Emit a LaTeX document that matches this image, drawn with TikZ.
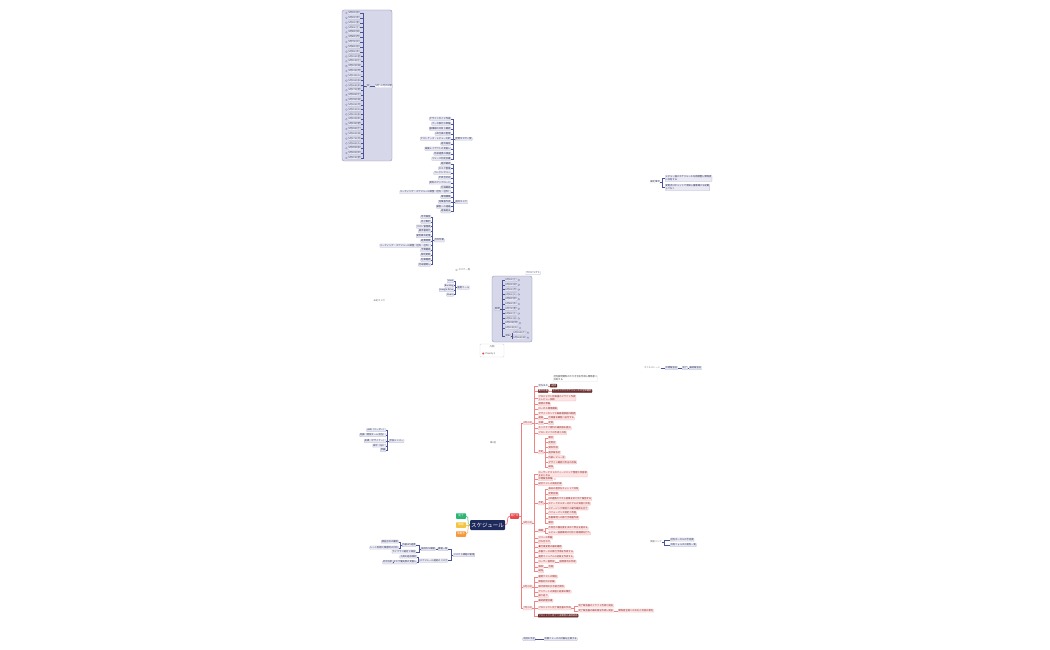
\documentclass[tikz,border=0pt]{standalone}
\usepackage{fontspec}
\setmainfont{Noto Sans CJK JP}
\usepackage{xcolor}
\usetikzlibrary{positioning}
\definecolor{navy}{HTML}{1F2A5C}
\definecolor{boxbg}{HTML}{D6D7E8}
\definecolor{boxbd}{HTML}{8487B4}
\definecolor{itembg}{HTML}{E9EAF3}
\definecolor{itembd}{HTML}{A8AACA}
\definecolor{itemtx}{HTML}{2A2F58}
\definecolor{bluelink}{HTML}{4A5298}
\definecolor{pinkbg}{HTML}{FDE3E3}
\definecolor{pinkbd}{HTML}{F3B2B2}
\definecolor{pinktx}{HTML}{8A2A2A}
\definecolor{redlink}{HTML}{F08585}
\definecolor{darkred}{HTML}{6B2C2C}
\definecolor{nodered}{HTML}{E8474C}
\definecolor{nodegreen}{HTML}{2BB673}
\definecolor{nodeyellow}{HTML}{F4C542}
\definecolor{nodeorange}{HTML}{F6993A}
\newcommand\tx{\fontsize{2.3}{2.8}\selectfont}
\newcommand\wday[1]{\ifcase#1 月\or 火\or 水\or 木\or 金\or 土\or 日\fi}

\begin{document}
\begin{tikzpicture}[x=1pt,y=-1pt,
    base/.style={rounded corners=0.6pt, line width=0.2pt, inner sep=0.5pt, font=\tx},
    item/.style={base, draw=itembd, fill=itembg, text=itemtx,
                 text height=1.8pt, text depth=0.5pt},
    pitem/.style={item, draw=pinkbd, fill=pinkbg, text=pinktx},
    ditem/.style={item, draw=darkred, fill=darkred, text=white},
    ptwo/.style={base, draw=pinkbd, fill=pinkbg, text=pinktx, align=left},
    btwo/.style={base, draw=itembd, fill=itembg, text=itemtx, align=left},
    wtwo/.style={base, draw=black!12, fill=white, text=black!80, align=left},
    note/.style={base, text=black!60, text height=1.8pt, text depth=0.5pt},
    colortag/.style={fill=#1, text=white, rounded corners=0.6pt, inner sep=0.6pt,
                     font=\fontsize{2.6}{3}\selectfont, minimum width=10pt, minimum height=5.5pt},
    blink/.style={draw=bluelink, line width=0.25pt},
    rlink/.style={draw=redlink, line width=0.35pt}
  ]
  \useasboundingbox (0,0) rectangle (1050,650);
  \fill[white] (0,0) rectangle (1050,650);

  % day list box
  \draw[boxbd, fill=boxbg, rounded corners=2pt, line width=0.3pt] (342,10) rectangle (392,161);
  \node[item] (dp) at (368,86) {日};
  \node[item, fill=white, anchor=west] (dl) at (375,86) {5月〜6月の日程};
  \draw[blink] (dp) -- (dl);
  \foreach \i in {0,...,30}{
    \pgfmathtruncatemacro\dd{\i+1}
    \pgfmathtruncatemacro\w{mod(\i+2,7)}
    \node[item, anchor=west] (d\i) at (348,{13+\i*4.83}) {5月\dd{}日(\wday{\w})};
    \draw[boxbd, line width=0.2pt] ([xshift=-1.6pt]d\i.west) circle (0.9pt);
    \draw[blink] (dp.west) -- ++(-3,0) |- (d\i.east);
  }

  % routine lists
  \node[item, anchor=west] (ga) at (455,139) {定例タスク一覧};
  \foreach \t [count=\i] in {デザインガイド作成, データ移行の準備, 議事録の共有と確認,
      API仕様の整理, テストケース・レビュー方針, 週次報告, 画面レイアウトの見直し,
      外部連携の調査, リリース判定会議}{
    \node[item, anchor=east] (ga\i) at (451,{113.7+\i*5}) {\t};
    \draw[blink] (ga.west) -- ++(-2,0) |- (ga\i.east);
  }
  \node[item, anchor=west] (gb) at (455,202) {週次タスク};
  \foreach \t [count=\i] in {進捗確認, タスク整理, コードレビュー, 不具合対応,
      資料のアップロード, 仕様確認, ミーティング・スケジュール調整（社内・社外）,
      環境構築, 見積書作成, 顧客への連絡, 週報提出}{
    \node[item, anchor=east] (gb\i) at (451,{159+\i*4.75}) {\t};
    \draw[blink] (gb.west) -- ++(-2,0) |- (gb\i.east);
  }
  \node[item, anchor=west] (gc) at (434,240.3) {月次作業};
  \foreach \t [count=\i] in {月次報告, 売上集計, コスト管理表, 請求書発行, 勤怠締め処理,
      経費精算, ミーティング・スケジュール調整（社内・社外）, 予算確認, 契約更新,
      在庫確認, 月末棚卸し}{
    \node[item, anchor=east] (gc\i) at (431,{212.3+\i*4.75}) {\t};
    \draw[blink] (gc.west) -- ++(-2,0) |- (gc\i.east);
  }
  \node[note, anchor=west] (tk) at (458,270) {タスク一覧};
  \draw[black!40, line width=0.2pt] ([xshift=-1.5pt]tk.west) circle (0.9pt);
  \node[item, anchor=west] (gd) at (457,287.5) {使用ツール};
  \foreach \t/\y [count=\i] in {Slack/281, Backlog/285.5, Google Drive/290, Zoom/294.5}{
    \node[item, anchor=east] (gd\i) at (454,\y) {\t};
    \draw[blink] (gd.west) -- ++(-1.5,0) |- (gd\i.east);
  }
  \node[note, anchor=west] (un) at (373,301) {未定タスク};

  % project period box
  \draw[boxbd, fill=boxbg, rounded corners=2pt, line width=0.3pt] (492,276) rectangle (532,342);
  \node[item, fill=white] (pl) at (533,273) {プロジェクト};
  \node[item] (pp) at (497.5,309) {期間};
  \foreach \i in {1,...,11}{
    \pgfmathtruncatemacro\w{mod(\i+4,7)}
    \node[item, anchor=west] (pd\i) at (505,{275.2+\i*4.8}) {6月\i{}日(\wday{\w})};
    \draw[boxbd, line width=0.2pt] ([xshift=1.6pt]pd\i.east) circle (0.9pt);
    \draw[blink] (pp.east) -- ++(2,0) |- (pd\i.west);
  }
  \node[item, anchor=west] (pw) at (505,335.7) {週末};
  \draw[blink] (pp.east) -- ++(2,0) |- (pw.west);
  \foreach \dd/\w [count=\i] in {15/5, 16/6}{
    \node[item, anchor=west] (pw\i) at (513,{327.7+\i*5}) {6月\dd{}日(\wday{\w})};
    \draw[boxbd, line width=0.2pt] ([xshift=1.6pt]pw\i.east) circle (0.9pt);
    \draw[blink] (pw.east) -- ++(1,0) |- (pw\i.west);
  }

  % legend
  \node[draw=black!15, fill=white, rounded corners=1pt, minimum width=24pt,
        minimum height=13pt] (lg) at (492,350.5) {};
  \node[note, text=black!70] (lgt) at (492,347) {凡例};
  \node[note, text=black!70, anchor=west] (lgp) at (485,353.5) {Priority 1};
  \fill[nodered] (483.2,353.5) circle (1.1pt);

  % notes on the right
  \node[item, fill=white, draw=black!12] (nt) at (655,182) {補足事項};
  \node[btwo, anchor=west] (nt1) at (665,178.5) {レビュー後にスケジュールを再調整し関係者\\に共有する};
  \node[btwo, anchor=west] (nt2) at (665,187.5) {変更点はチャットで周知し議事録にも記載\\しておく};
  \draw[blink] (nt.east) -- ++(2,0) |- (nt1.west);
  \draw[blink] (nt.east) -- ++(2,0) |- (nt2.west);
  \node[note] (ms1) at (652,368) {マイルストーン};
  \node[item, anchor=west] (ms2) at (665,368) {中間報告会};
  \node[item, anchor=west] (ms3) at (682,368) {完了};
  \node[item, anchor=west] (ms4) at (689,368) {最終報告会};
  \draw[blink] (ms1) -- (ms2);
  \draw[blink] (ms2) -- (ms3);
  \draw[blink] (ms3) -- (ms4);

  % members
  \node[item, anchor=west] (mb) at (389,441) {参加メンバー};
  \foreach \t/\y [count=\i] in {山田（リーダー）/430, 佐藤（開発チーム担当）/435,
      高橋（デザイナー）/441, 田中（QA）/445.7, 伊藤/450}{
    \node[item, anchor=east] (mb\i) at (386,\y) {\t};
    \draw[blink] (mb.west) -- ++(-1.5,0) |- (mb\i.east);
  }
  \node[note] (wk) at (493,443) {第1週};

  % centre
  \node[fill=navy, text=white, font=\fontsize{5.5}{6}\selectfont, rounded corners=1pt,
        minimum width=35pt, minimum height=10pt, inner sep=0.5pt] (c) at (487.5,525) {スケジュール};
  \node[colortag=nodegreen] (sg) at (461,516) {完了};
  \node[colortag=nodeyellow] (sy) at (461,525) {保留};
  \node[colortag=nodeorange] (so) at (461,534) {未着手};
  \foreach \n/\col in {sg/nodegreen, sy/nodeyellow, so/nodeorange}
    \draw[\col, line width=0.5pt] (c.west) to[out=180, in=0] (\n.east);
  \node[colortag=nodered, minimum width=9pt] (r) at (514.5,516) {進行中};
  \draw[nodered, line width=0.5pt] (c.east) to[out=0, in=180] (r.west);

  % months
  \node[pitem, anchor=west] (m4) at (523,423) {4月 (30)};
  \node[pitem, anchor=west] (m5) at (523,522.7) {5月 (31)};
  \node[pitem, anchor=west] (m6) at (523,586.7) {6月 (30)};
  \node[pitem, anchor=west] (m7) at (523,608.3) {7月 (31)};
  \foreach \m in {m4,m5,m6,m7}
    \draw[rlink, draw=nodered!70] (r.east) -- ++(2,0) |- (\m.west);

  % April
  \node[wtwo, anchor=west] (a0) at (553,378.5) {社内説明資料のたたき台を作成し関係者へ\\共有する};
  \node[item, fill=white, draw=black!12, anchor=west] (a1) at (538,385.7) {担当決め};
  \node[ditem, anchor=west] (a1b) at (550,385.7) {1週目};
  \node[ditem, anchor=west] (a2) at (538,391) {要件定義};
  \node[ditem, anchor=west] (a2b) at (552,391) {ヒアリングとスケジュールの全体確認};
  \node[ptwo, anchor=west] (a3) at (538,398) {プロジェクト計画書のドラフト作成\\とレビュー依頼};
  \draw[rlink] (a1) -- (a1b);
  \draw[rlink] (a2) -- (a2b);
  \foreach \y/\t [count=\i] in {404.3/環境の準備, 408.7/ローカル環境構築,
      413.7/デザインカンプと画面遷移図の確認, 418.3/連絡, 423/会議,
      428.3/キックオフ資料の最終版を提出, 433/プロトタイプの作成と共有}
    \node[pitem, anchor=west] (q\i) at (538,\y) {\t};
  \node[pitem, anchor=west] (q4b) at (548,418.3) {仕様書を顧客へ送付する};
  \node[pitem, anchor=west] (q5b) at (548,423) {定例};
  \draw[rlink] (q4) -- (q4b);
  \draw[rlink] (q5) -- (q5b);
  \node[pitem, anchor=west] (y4) at (538,452.3) {予定};
  \foreach \t [count=\i] in {朝会, 定例会, 資料作成, 進捗報告会, 外部レビュー会,
      デザイン確認と修正の反映, 納品}{
    \node[pitem, anchor=west] (y4\i) at (548,{432.8+\i*4.93}) {\t};
    \draw[rlink] (y4.east) -- ++(1.5,0) |- (y4\i.west);
  }
  \foreach \n in {a1,a2,a3,q1,q2,q3,q4,q5,q6,q7,y4}
    \draw[rlink] (m4.east) -- ++(1.5,0) |- (\n.west);

  % May
  \node[ptwo, anchor=west] (b1) at (538,474) {ユーザーテストのフィードバック整理と改善案\\をまとめる};
  \node[pitem, anchor=west] (e1) at (538,479) {中間報告準備};
  \draw[pinkbd, line width=0.2pt] ([xshift=1.8pt]e1.east) circle (0.9pt);
  \node[pitem, anchor=west] (e2) at (538,484) {結合テストの実施計画};
  \node[pitem, anchor=west] (y5) at (538,503.3) {予定};
  \foreach \t [count=\i] in {毎日の進捗をチャットで共有, 定例会議,
      API連携のテスト結果をまとめて報告する, ステークホルダー向けデモの実施と共有,
      ステージング環境での動作確認を完了, パフォーマンス測定と改善,
      本番環境への移行手順書作成, 朝会}{
    \node[pitem, anchor=west] (y5\i) at (548,{484.53+\i*4.77}) {\t};
    \draw[rlink] (y5.east) -- ++(1.5,0) |- (y5\i.west);
  }
  \node[pitem, anchor=west] (k5) at (538,530.7) {課題};
  \foreach \t [count=\i] in {不具合の優先度を決めて修正を進める, レビュー指摘事項の対応と再確認を行う}{
    \node[pitem, anchor=west] (k5\i) at (548,{523.3+\i*5}) {\t};
    \draw[rlink] (k5.east) -- ++(1.5,0) |- (k5\i.west);
  }
  \foreach \y/\t [count=\i] in {537.7/リリース準備, 542.3/打ち合わせ,
      547.3/{\textcolor{nodered}{●}仕様変更の最終確認}, 552.3/本番データの移行手順を作成する,
      557/運用マニュアルの初版を作成する, 561.7/ユーザー説明会, 566.7/検収, 571.3/納品}
    \node[pitem, anchor=west] (f\i) at (538,\y) {\t};
  \node[pitem, anchor=west] (f6b) at (559,561.7) {説明資料の作成};
  \node[pitem, anchor=west] (f7b) at (548,566.7) {合格};
  \draw[rlink] (f6) -- (f6b);
  \draw[rlink] (f7) -- (f7b);
  \foreach \n in {b1,e1,e2,y5,k5,f1,f2,f3,f4,f5,f6,f7,f8}
    \draw[rlink] (m5.east) -- ++(1.5,0) |- (\n.west);

  % June
  \foreach \y/\t [count=\i] in {576.7/運用テストの開始, 581.7/障害対応の訓練,
      586.7/保守体制の引き継ぎ資料, 591.7/アンケートの実施と結果の集計, 596.3/振り返り}{
    \node[pitem, anchor=west] (g\i) at (538,\y) {\t};
    \draw[rlink] (m6.east) -- ++(1.5,0) |- (g\i.west);
  }

  % July
  \node[pitem, anchor=west] (h1) at (538,600.7) {最終調整会議};
  \node[pitem, anchor=west] (h2) at (538,608.3) {プロジェクト完了報告書の作成};
  \node[ditem, anchor=west] (h3) at (538,615.7) {プロジェクト終了と成果物の最終納品};
  \node[pitem, anchor=west] (h2a) at (578,605.7) {完了報告書のドラフト作成と提出};
  \node[pitem, anchor=west] (h2b) at (578,610.7) {完了報告書の最終版を作成し提出};
  \node[pitem, anchor=west] (h2c) at (618,610.7) {関係者全員へのお礼と次回の案内};
  \foreach \n in {h1,h2,h3}
    \draw[rlink] (m7.east) -- ++(1.5,0) |- (\n.west);
  \foreach \n in {h2a,h2b}
    \draw[rlink] (h2.east) -- ++(3,0) |- (\n.west);
  \draw[rlink] (h2b) -- (h2c);

  % next phase
  \node[item, anchor=west] (n1) at (522.7,639) {次回の予定};
  \node[item, anchor=west] (n2) at (544,639) {次期フェーズの計画を立案する};
  \draw[blink] (n1) -- (n2);

  % links
  \node[note] (lk) at (656,542.3) {関連リンク};
  \node[item, anchor=west] (lk1) at (670,539.7) {社内ポータルの予定表};
  \node[item, anchor=west] (lk2) at (670,545) {共有フォルダの資料一覧};
  \draw[blink] (lk.east) -- ++(2,0) |- (lk1.west);
  \draw[blink] (lk.east) -- ++(2,0) |- (lk2.west);

  % risks
  \node[item, anchor=west] (rk) at (453,555) {リスクと課題の管理};
  \node[item, anchor=east] (rkA) at (448,549) {課題一覧};
  \node[item, anchor=east] (rkA1) at (435.5,549) {技術的な課題};
  \node[item, anchor=east] (rkA1a) at (416,545) {外部API連携};
  \node[item, anchor=east] (rkA1b) at (416,551.7) {ライブラリ選定と検証};
  \node[item, anchor=east] (rkA1a1) at (398.5,541.7) {認証方式の確認};
  \node[item, anchor=east] (rkA1a2) at (398.5,547.7) {レート制限と障害時の対応};
  \node[item, anchor=east] (rkB) at (448,560.5) {スケジュール遅延のリスク};
  \node[item, anchor=east] (rkB1) at (417,556.7) {人員の追加検討};
  \node[item, anchor=east] (rkB2) at (417,562.3) {タスク優先度の見直し};
  \node[item, anchor=east] (rkB21) at (393,562.3) {対応方針};
  \foreach \p/\n in {rk/rkA, rk/rkB, rkA1/rkA1a, rkA1/rkA1b, rkA1a/rkA1a1, rkA1a/rkA1a2,
      rkB/rkB1, rkB/rkB2}
    \draw[blink] (\p.west) -- ++(-1.5,0) |- (\n.east);
  \draw[blink] (rkA) -- (rkA1);
  \draw[blink] (rkB2) -- (rkB21);
\end{tikzpicture}
\end{document}
